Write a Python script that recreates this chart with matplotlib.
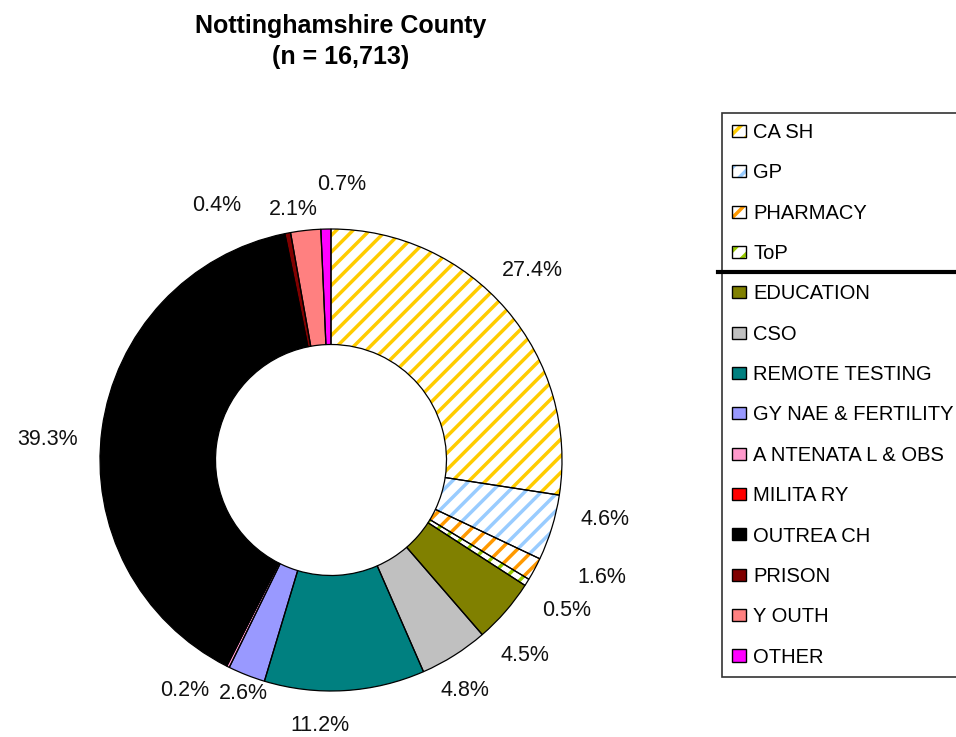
import numpy as np
import matplotlib
matplotlib.use('Agg')
import matplotlib.pyplot as plt
from matplotlib.lines import Line2D
from matplotlib.patches import Patch
from matplotlib.legend_handler import HandlerTuple

plt.rcParams['font.family'] = ['Liberation Sans', 'DejaVu Sans']
plt.rcParams['hatch.linewidth'] = 2.5

# data (percent of tests)
categories = ['CASH', 'GP', 'PHARMACY', 'ToP', 'EDUCATION', 'CSO', 'REMOTE TESTING',
              'GYNAE & FERTILITY', 'ANTENATAL & OBS', 'MILITARY', 'OUTREACH', 'PRISON',
              'YOUTH', 'OTHER']
legend_names = ['CA SH', 'GP', 'PHARMACY', 'ToP', 'EDUCATION', 'CSO', 'REMOTE TESTING',
                'GY NAE & FERTILITY', 'A NTENATA L & OBS', 'MILITA RY', 'OUTREA CH', 'PRISON',
                'Y OUTH', 'OTHER']
values = [27.4, 4.6, 1.6, 0.5, 4.5, 4.8, 11.2, 2.6, 0.2, 0.0, 39.3, 0.4, 2.1, 0.7]
colors = ['#FFCC00', '#99CCFF', '#FF9900', '#99CC00', '#808000', '#C0C0C0', '#008080',
          '#9999FF', '#FF99CC', '#FF0000', '#000000', '#800000', '#FF8080', '#FF00FF']
hatched = ['CASH', 'GP', 'PHARMACY', 'ToP']

# label nudges (pixels) where Excel pushed labels apart
nudge = {'GP': (9, 22), 'PHARMACY': (27, 13), 'EDUCATION': (-15, -14), 'CSO': (-14, 4),
         'REMOTE TESTING': (-28, 11), 'GYNAE & FERTILITY': (14, 25),
         'ANTENATAL & OBS': (-23, 18), 'OUTREACH': (-9, -16), 'PRISON': (-62, -18),
         'YOUTH': (-7, -25), 'OTHER': (17, -2), 'CASH': (-9, 9), 'ToP': (0, -4)}

W, H = 956, 737
fig = plt.figure(figsize=(W / 100, H / 100), dpi=100)
cx, cy, r = 331, 460, 231
ax = fig.add_axes([(cx - r) / W, (H - cy - r) / H, 2 * r / W, 2 * r / H])

wedges, _ = ax.pie(values, colors=colors, startangle=90, counterclock=False,
                   radius=1, wedgeprops=dict(width=0.5, linewidth=0))
for w, name, c in zip(wedges, categories, colors):
    if name in hatched:
        w.set_facecolor('white')
        w.set_edgecolor(c)
        w.set_hatch('//')
# black outlines on top
ax.pie(values, colors=['none'] * len(values), startangle=90, counterclock=False,
       radius=1, wedgeprops=dict(width=0.5, linewidth=0.9, edgecolor='black', fill=False))
ax.set_xlim(-1, 1)
ax.set_ylim(-1, 1)
ax.axis('off')

# percentage labels
for w, name, v in zip(wedges, categories, values):
    if v == 0:
        continue
    ang = np.deg2rad((w.theta1 + w.theta2) / 2)
    dx, dy = nudge.get(name, (0, 0))
    ax.annotate(f'{v}%', xy=(1.2 * np.cos(ang), 1.2 * np.sin(ang)),
                xytext=(dx, dy), textcoords='offset pixels', annotation_clip=False,
                ha='center', va='center', fontsize=15.5, color='#111111')

# title
fig.text(341 / W, 1 - 26 / H, 'Nottinghamshire County', ha='center', va='center',
         fontsize=18, fontweight='bold')
fig.text(341 / W, 1 - 57 / H, '(n = 16,713)', ha='center', va='center',
         fontsize=18, fontweight='bold')

# legend handles: hatched swatch + black outline on top
handles = []
for name, c in zip(categories, colors):
    if name in hatched:
        fill = Patch(facecolor='white', edgecolor=c, hatch='//', linewidth=0)
        edge = Patch(facecolor='none', edgecolor='black', linewidth=1.0)
        handles.append((fill, edge))
    else:
        handles.append(Patch(facecolor=c, edgecolor='black', linewidth=1.0))

# legend (box runs off the right edge as in the original)
x0 = 722 / W
leg = fig.legend(handles, legend_names, loc='upper left',
                 bbox_to_anchor=(x0, 1 - 113 / H, 1.08 - x0, 0), mode='expand',
                 handler_map={tuple: HandlerTuple(ndivide=1, pad=0)},
                 frameon=True, fancybox=False,
                 edgecolor='#333333', framealpha=1, fontsize=14.5, labelspacing=1.06,
                 handlelength=0.7, handleheight=0.55, handletextpad=0.35,
                 borderaxespad=0, borderpad=0.5)
leg.get_frame().set_linewidth(1.2)

# separator line under the hatched group
fig.add_artist(Line2D([718 / W, 1.0], [1 - 272 / H, 1 - 272 / H],
                      transform=fig.transFigure, color='black', linewidth=3, zorder=10))

fig.savefig('out.png', dpi=100)
